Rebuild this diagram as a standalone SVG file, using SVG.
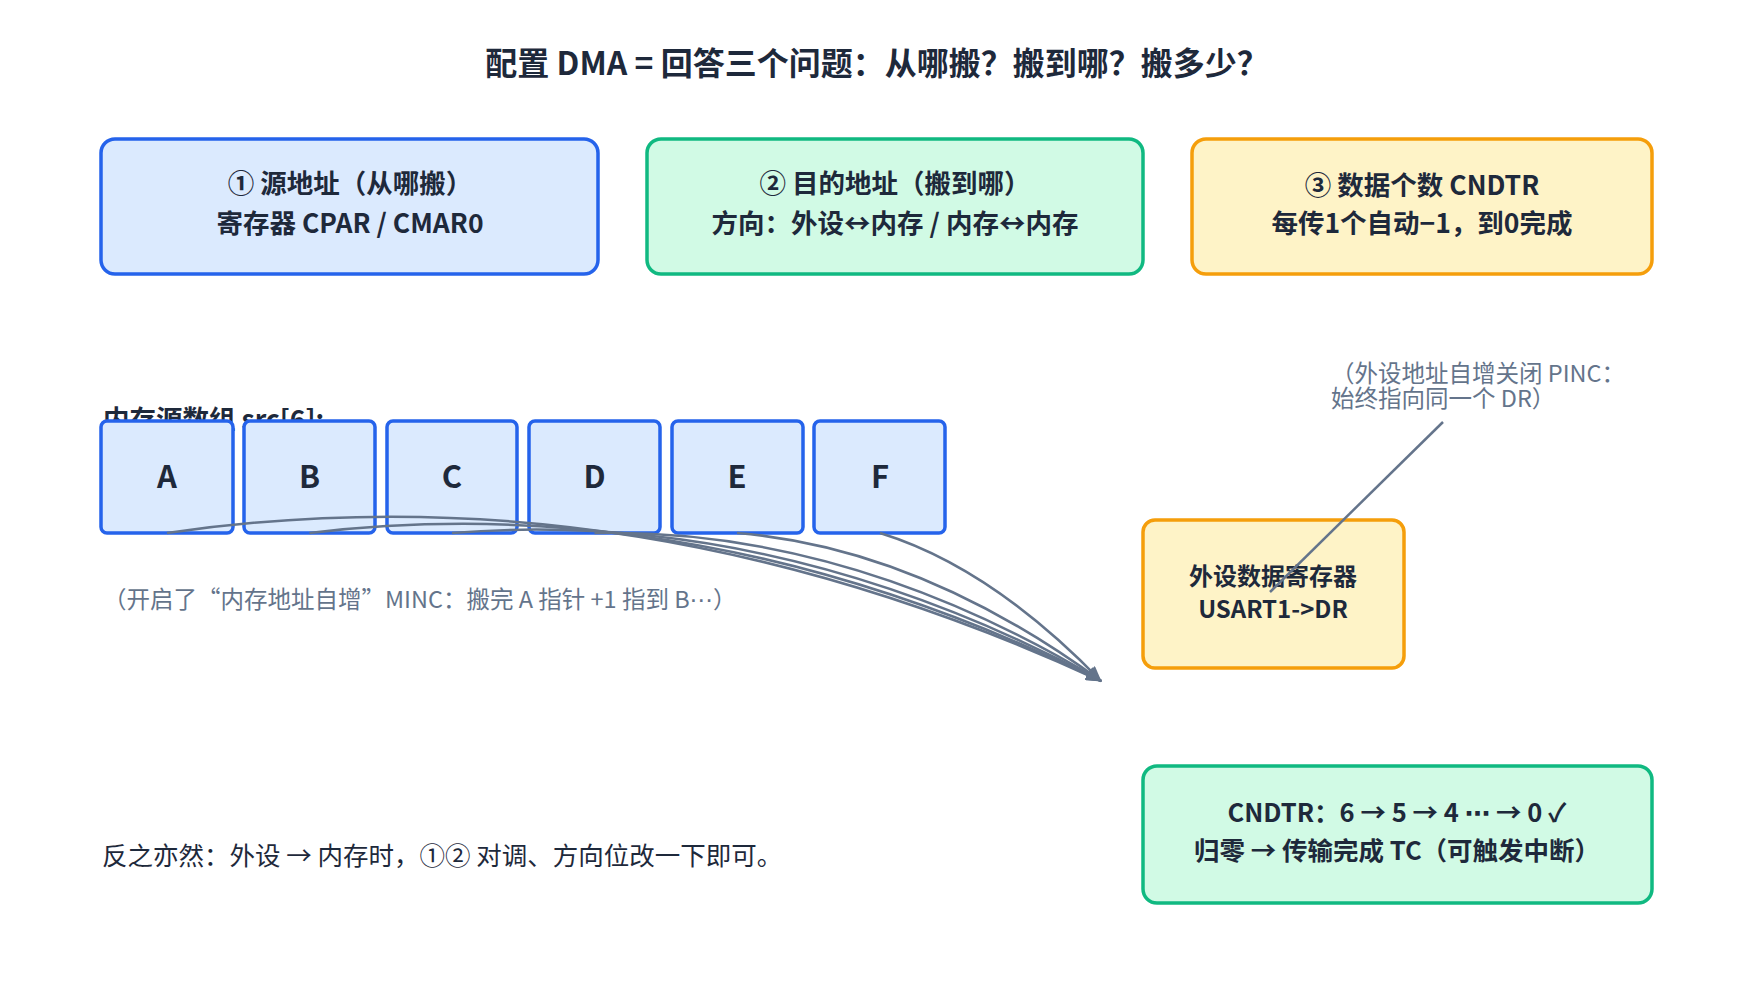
<svg xmlns="http://www.w3.org/2000/svg" width="1754" height="1004" viewBox="0 0 1754 1004">
<style>
  text { font-family: "Noto Sans CJK SC", "Noto Sans", sans-serif; fill: #1e293b; }
  .title { font-size: 32px; font-weight: 700; }
  .bt { font-size: 26.5px; font-weight: 700; }
  .pt { font-size: 24px; font-weight: 700; }
  .ct { font-size: 25.5px; font-weight: 700; }
  .cell { font-size: 31px; font-weight: 700; }
  .note { font-size: 23.5px; fill: #64748b; }
  .plain { font-size: 25.5px; }
  .ell { font-family: "DejaVu Sans", sans-serif; }
  .blue { fill: #dbeafe; stroke: #2563eb; stroke-width: 3.5; }
  .green { fill: #d1fae5; stroke: #10b981; stroke-width: 3.5; }
  .amber { fill: #fef3c7; stroke: #f59e0b; stroke-width: 3.5; }
  .conn { fill: none; stroke: #64748b; stroke-width: 2.5; }
</style>
<defs>
  <marker id="arr" markerWidth="16" markerHeight="12" refX="15" refY="6" orient="auto" markerUnits="userSpaceOnUse">
    <path d="M0,0 L16,6 L0,12 Z" fill="#64748b"/>
  </marker>
</defs>
<rect width="1754" height="1004" fill="#ffffff"/>
<text class="title" x="877" y="75" text-anchor="middle">配置 DMA = 回答三个问题：从哪搬？搬到哪？搬多少？</text>

<g id="box-src">
  <rect class="blue" x="101" y="139" width="497" height="135" rx="14"/>
  <text class="bt" x="350" y="193" text-anchor="middle">① 源地址（从哪搬）</text>
  <text class="bt" x="350" y="233" text-anchor="middle">寄存器 CPAR / CMAR0</text>
</g>
<g id="box-dst">
  <rect class="green" x="647" y="139" width="496" height="135" rx="14"/>
  <text class="bt" x="895" y="193" text-anchor="middle">② 目的地址（搬到哪）</text>
  <text class="bt" x="895" y="233" text-anchor="middle">方向：外设↔内存 / 内存↔内存</text>
</g>
<g id="box-cnt">
  <rect class="amber" x="1192" y="139" width="460" height="135" rx="14"/>
  <text class="bt" x="1422" y="195" text-anchor="middle">③ 数据个数 CNDTR</text>
  <text class="bt" x="1422" y="233" text-anchor="middle">每传1个自动−1，到0完成</text>
</g>

<text id="mem-label" class="bt" x="103" y="429">内存源数组 src[6]:</text>

<g id="cell-A"><rect class="blue" x="101" y="421" width="132" height="112" rx="6"/><text class="cell" x="167" y="488" text-anchor="middle">A</text></g>
<g id="cell-B"><rect class="blue" x="244" y="421" width="131" height="112" rx="6"/><text class="cell" x="309.5" y="488" text-anchor="middle">B</text></g>
<g id="cell-C"><rect class="blue" x="387" y="421" width="130" height="112" rx="6"/><text class="cell" x="452" y="488" text-anchor="middle">C</text></g>
<g id="cell-D"><rect class="blue" x="529" y="421" width="131" height="112" rx="6"/><text class="cell" x="594.5" y="488" text-anchor="middle">D</text></g>
<g id="cell-E"><rect class="blue" x="672" y="421" width="131" height="112" rx="6"/><text class="cell" x="737" y="488" text-anchor="middle">E</text></g>
<g id="cell-F"><rect class="blue" x="814" y="421" width="131" height="112" rx="6"/><text class="cell" x="880" y="488" text-anchor="middle">F</text></g>

<text id="minc-note" class="note" x="103" y="608">（开启了“内存地址自增”MINC：搬完 A 指针 +1 指到 B<tspan class="ell">⋯</tspan>）</text>

<g id="periph">
  <rect class="amber" x="1143" y="520" width="261" height="148" rx="12"/>
  <text class="pt" x="1273" y="585" text-anchor="middle">外设数据寄存器</text>
  <text class="pt" x="1273" y="618" text-anchor="middle">USART1-&gt;DR</text>
</g>

<g id="pinc-note">
  <text class="note" x="1331" y="382">（外设地址自增关闭 PINC：</text>
  <text class="note" x="1331" y="407">始终指向同一个 DR）</text>
</g>

<g id="connectors">
  <path class="conn" d="M167,533 Q634,465 1101,681" marker-end="url(#arr)"/>
  <path class="conn" d="M309.5,533 Q705,486 1101,681" marker-end="url(#arr)"/>
  <path class="conn" d="M452,533 Q776.5,507 1101,681" marker-end="url(#arr)"/>
  <path class="conn" d="M594.5,533 Q848,528 1101,681" marker-end="url(#arr)"/>
  <path class="conn" d="M737,533 Q919,548 1101,681" marker-end="url(#arr)"/>
  <path class="conn" d="M880,533 Q990.5,567 1101,681" marker-end="url(#arr)"/>
  <path class="conn" d="M1443,422 L1270,592"/>
</g>

<g id="cndtr">
  <rect class="green" x="1143" y="766" width="509" height="137" rx="14"/>
  <text class="ct" x="1397" y="822" text-anchor="middle">CNDTR：6 → 5 → 4 <tspan class="ell">⋯</tspan> → 0 ✓</text>
  <text class="ct" x="1397" y="860" text-anchor="middle">归零 → 传输完成 TC（可触发中断）</text>
</g>

<text id="reverse-note" class="plain" x="102" y="865">反之亦然：外设 → 内存时，①② 对调、方向位改一下即可。</text>
</svg>
